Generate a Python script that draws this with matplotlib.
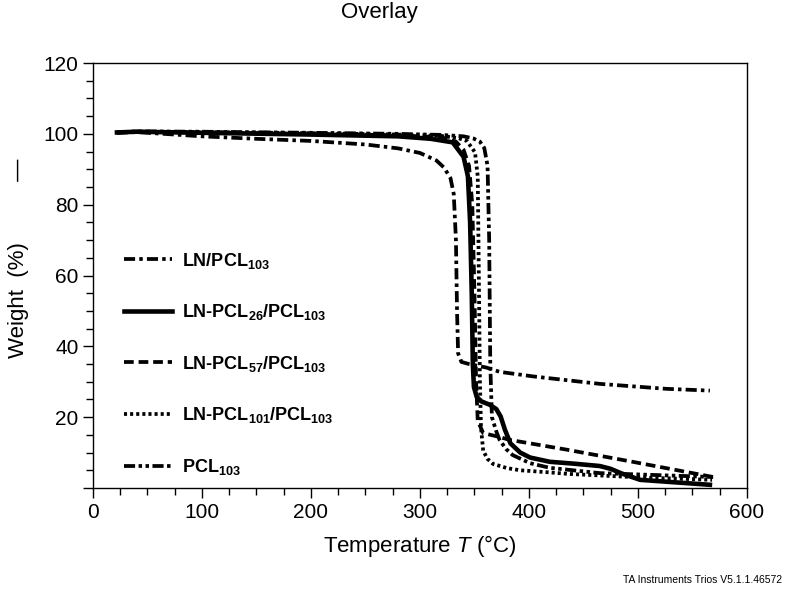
import numpy as np
import matplotlib
matplotlib.use('Agg')
import matplotlib.pyplot as plt
from matplotlib.ticker import MultipleLocator, FixedLocator

plt.rcParams['font.family'] = ['Liberation Sans', 'DejaVu Sans']
plt.rcParams['mathtext.fontset'] = 'custom'
plt.rcParams['mathtext.bf'] = 'Liberation Sans:bold'
plt.rcParams['mathtext.it'] = 'Liberation Sans:italic'
plt.rcParams['mathtext.rm'] = 'Liberation Sans'
plt.rcParams['mathtext.default'] = 'bf'
plt.rcParams['lines.scale_dashes'] = False

# TGA curves (temperature in C, weight in %)
ln_pcl_T = [22, 40, 100, 150, 200, 250, 280, 300, 315, 322, 328, 331, 333, 334, 335, 338, 345, 361, 373, 404, 465, 526, 566]
ln_pcl_W = [100.3, 100.5, 99.3, 98.6, 98.0, 97.0, 95.9, 94.6, 92.5, 90.5, 87.5, 83, 70, 50, 38, 35.6, 35.0, 34.0, 32.8, 31.5, 29.4, 28.0, 27.5]

pcl26_T = [22, 40, 100, 200, 280, 310, 330, 340, 344, 346, 347.5, 348.5, 349.5, 352, 356, 364, 370, 374, 378, 383, 392, 401, 419, 440, 465, 475, 485, 502, 566]
pcl26_W = [100.4, 100.6, 100.3, 99.8, 99.3, 98.6, 97.6, 93.5, 88, 75, 55, 35, 28.5, 25.8, 24.5, 23.5, 22.3, 20.2, 16.4, 12.6, 10.0, 8.6, 7.4, 6.9, 6.2, 5.4, 4.1, 2.3, 0.9]

pcl57_T = [22, 40, 100, 200, 280, 320, 333, 340, 345, 348, 350, 351.5, 353, 358, 373, 382, 435, 495, 569]
pcl57_W = [100.4, 100.6, 100.4, 100.0, 99.6, 99.0, 97.8, 95.5, 91, 80, 55, 30, 19, 15.5, 14.4, 13.6, 10.8, 7.4, 3.1]

pcl101_T = [22, 40, 100, 200, 280, 320, 335, 343, 350.5, 353, 354, 355, 356, 358, 362, 367, 380, 392, 419, 435, 500, 568]
pcl101_W = [100.4, 100.6, 100.5, 100.2, 99.8, 99.4, 98.8, 98, 94.8, 88, 60, 30, 17, 10.5, 8.2, 6.8, 5.6, 5.0, 4.4, 4.0, 3.0, 2.3]

pcl103_T = [22, 40, 100, 200, 280, 320, 340, 349, 355, 359, 362, 363.5, 364.5, 366, 370, 373, 379, 385, 401, 419, 465, 569]
pcl103_W = [100.4, 100.7, 100.6, 100.3, 100.0, 99.7, 99.3, 98.7, 97.8, 96.0, 91, 70, 35, 20, 16, 13.6, 11, 9.3, 7.0, 5.7, 4.2, 3.1]

labels = [r'LN/PCL$_{103}$', r'LN-PCL$_{26}$/PCL$_{103}$', r'LN-PCL$_{57}$/PCL$_{103}$',
          r'LN-PCL$_{101}$/PCL$_{103}$', r'PCL$_{103}$']

fig = plt.figure(figsize=(7.96, 5.89), dpi=100)
ax = fig.add_axes([0.1168, 0.1715, 0.8216, 0.7215])

lw = 2.7
ax.plot(ln_pcl_T, ln_pcl_W, color='black', lw=lw, linestyle=(0, (8, 3, 2.5, 3)), label=labels[0])
ax.plot(pcl26_T, pcl26_W, color='black', lw=3.3, linestyle='-', label=labels[1])
ax.plot(pcl57_T, pcl57_W, color='black', lw=lw, linestyle=(0, (7, 3.5)), label=labels[2])
ax.plot(pcl101_T, pcl101_W, color='black', lw=lw, linestyle=(0, (2.2, 2.2)), label=labels[3])
ax.plot(pcl103_T, pcl103_W, color='black', lw=lw, linestyle=(0, (8, 2.5, 2.5, 2.5, 2.5, 2.5)), label=labels[4])

ax.set_xlim(0, 600)
ax.set_ylim(0, 120)
ax.xaxis.set_major_locator(MultipleLocator(100))
ax.xaxis.set_minor_locator(MultipleLocator(25))
ax.yaxis.set_major_locator(FixedLocator([0, 20, 40, 60, 80, 100, 120]))
ax.yaxis.set_minor_locator(MultipleLocator(5))
ax.set_yticklabels(['', '20', '40', '60', '80', '100', '120'])
ax.tick_params(which='both', direction='out', width=1.0, labelsize=15, top=False, right=False)
ax.tick_params(which='major', length=7)
ax.tick_params(which='minor', length=5)
for s in ax.spines.values():
    s.set_linewidth(1.0)

ax.set_xlabel(r'Temperature $\mathit{T}$ (°C)', fontsize=16, labelpad=8)
ax.set_ylabel('Weight  (%)' + ' ' * 10 + '\u2014', fontsize=16)
ax.yaxis.set_label_coords(-0.098, 0.54)

leg = ax.legend(loc='upper left', bbox_to_anchor=(0.022, 0.597), frameon=False,
                prop={'weight': 'bold', 'size': 13}, handlelength=2.7,
                labelspacing=1.75, handletextpad=0.55)

fig.text(0.477, 0.979, 'Overlay', ha='center', va='center', fontsize=16)
fig.text(0.982, 0.015, 'TA Instruments Trios V5.1.1.46572', ha='right', va='center', fontsize=7.5)

fig.savefig('out.png', dpi=100)
